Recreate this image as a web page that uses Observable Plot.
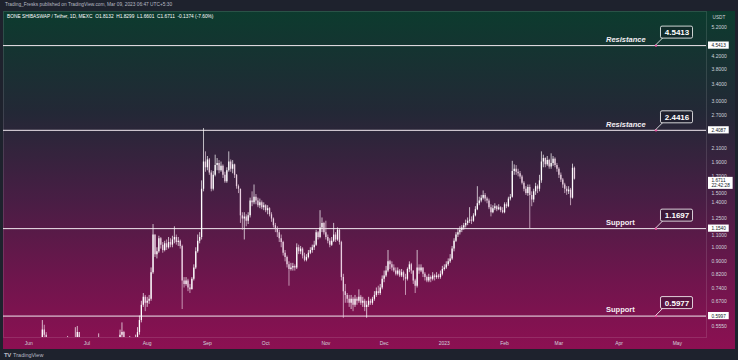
<!DOCTYPE html>
<html>
<head>
<meta charset="utf-8">
<script src="https://cdn.jsdelivr.net/npm/d3@7"></script>
<script src="https://cdn.jsdelivr.net/npm/@observablehq/plot@0.6"></script>
<style>
html,body{margin:0;padding:0;background:#1e222d;width:738px;height:360px;overflow:hidden;font-family:"Liberation Sans",Arial,sans-serif;}
#header{position:absolute;left:5px;top:2px;font-size:4.8px;line-height:6px;color:#b8bbc4;white-space:nowrap;}
#chart{position:absolute;left:3px;top:11px;width:732px;height:338px;
  background:linear-gradient(to bottom,#0c3b2e 0%,#232836 30%,#471e44 55%,#70154d 80%,#8c1052 100%);}
#chart svg{position:absolute;left:0;top:0;}
#legend{position:absolute;left:4px;top:3px;font-size:4.8px;line-height:6px;color:#ffffff;white-space:nowrap;z-index:2;}
#footer{position:absolute;left:4px;top:352px;font-size:5.5px;line-height:6px;color:#b8bbc4;white-space:nowrap;}
#footer b{font-size:6px;letter-spacing:-0.5px;margin-right:1px;}
</style>
</head>
<body>
<div id="header">Trading_Fresks published on TradingView.com, Mar 09, 2023 06:47 UTC+5:30</div>
<div id="chart"><div id="legend">BONE SHIBASWAP / Tether, 1D, MEXC&nbsp;&nbsp;O1.8132&nbsp;&nbsp;H1.8299&nbsp;&nbsp;L1.6601&nbsp;&nbsp;C1.6711&nbsp;&nbsp;-0.1374 (-7.60%)</div></div>
<div id="footer"><b>TV</b> TradingView</div>
<script>
// ---- data (daily candles from 2022-06-01) ----
const startDate = "2022-06-01";
const firstOpen = 0.48;
const closes = [
0.47,0.46,0.45,0.46,0.47,0.46,0.48,0.54,0.52,0.48,
0.46,0.44,0.42,0.40,0.41,0.42,0.43,0.44,0.45,0.47,
0.48,0.46,0.47,0.49,0.50,0.53,0.49,0.47,0.46,0.45,
0.46,0.47,0.46,0.47,0.48,0.49,0.50,0.48,0.47,0.46,
0.47,0.46,0.47,0.48,0.49,0.48,0.49,0.52,0.53,0.50,
0.48,0.49,0.50,0.48,0.49,0.50,0.53,0.58,0.65,0.69,
0.66,0.67,0.68,0.83,1.10,0.95,0.97,1.07,1.02,0.98,
1.03,1.00,1.04,1.02,1.06,1.08,1.04,1.05,1.01,0.78,
0.76,0.78,0.74,0.73,0.79,0.86,0.97,1.05,1.08,1.55,
1.90,1.82,1.93,1.75,1.55,1.72,1.85,1.88,1.78,1.84,
1.72,1.64,1.78,1.90,1.80,1.86,1.72,1.58,1.55,1.27,
1.24,1.26,1.22,1.27,1.42,1.40,1.46,1.42,1.37,1.40,
1.35,1.37,1.32,1.34,1.28,1.24,1.18,1.15,1.12,1.07,
1.04,0.96,0.93,0.88,0.85,0.86,0.87,0.86,1.00,0.97,
0.99,0.94,0.91,0.93,0.96,0.98,1.00,1.02,1.12,1.08,
1.16,1.20,1.12,1.08,1.05,1.02,1.05,1.10,1.06,1.14,
1.04,0.80,0.72,0.70,0.68,0.66,0.68,0.65,0.68,0.67,
0.69,0.66,0.67,0.64,0.65,0.67,0.66,0.68,0.70,0.72,
0.71,0.74,0.79,0.81,0.84,0.90,0.88,0.86,0.84,0.82,
0.84,0.81,0.83,0.80,0.79,0.85,0.88,0.84,0.78,0.75,
0.86,0.84,0.86,0.82,0.80,0.78,0.80,0.79,0.81,0.80,
0.81,0.80,0.82,0.85,0.86,0.88,0.90,0.92,0.99,1.05,
1.10,1.12,1.14,1.16,1.18,1.20,1.22,1.23,1.22,1.27,
1.33,1.39,1.42,1.45,1.48,1.44,1.42,1.35,1.30,1.34,
1.36,1.33,1.35,1.32,1.30,1.38,1.36,1.44,1.46,1.77,
1.80,1.76,1.74,1.70,1.62,1.55,1.50,1.57,1.48,1.43,
1.52,1.58,1.55,1.65,1.90,1.95,1.86,1.92,1.83,1.88,
1.94,1.85,1.80,1.72,1.66,1.60,1.55,1.52,1.54,1.45,
1.8132,1.6711];
const highs = [
0.49,0.48,0.47,0.48,0.49,0.48,0.50,0.58,0.56,0.53,
0.48,0.46,0.45,0.42,0.43,0.44,0.45,0.46,0.47,0.49,
0.515,0.49,0.49,0.51,0.55,0.555,0.52,0.49,0.48,0.47,
0.48,0.49,0.48,0.49,0.50,0.505,0.525,0.50,0.49,0.48,
0.49,0.48,0.49,0.50,0.505,0.50,0.51,0.54,0.57,0.535,
0.50,0.505,0.515,0.50,0.505,0.52,0.55,0.60,0.67,0.71,
0.70,0.69,0.70,0.86,1.19,1.10,1.00,1.09,1.08,1.04,
1.05,1.06,1.08,1.07,1.09,1.17,1.10,1.08,1.06,1.02,
0.80,0.80,0.79,0.76,0.80,0.88,1.00,1.10,1.12,1.65,
2.44,2.05,1.98,1.95,1.78,1.77,2.00,1.95,1.92,1.90,
1.86,1.76,1.82,2.05,1.93,1.92,1.87,1.73,1.60,1.55,
1.30,1.30,1.28,1.30,1.45,1.52,1.60,1.49,1.45,1.44,
1.42,1.40,1.38,1.37,1.35,1.30,1.25,1.20,1.17,1.14,
1.10,1.05,0.98,0.94,0.90,0.89,0.89,0.88,1.03,1.02,
1.01,1.00,0.96,0.95,0.98,1.00,1.02,1.05,1.14,1.13,
1.32,1.25,1.21,1.22,1.10,1.07,1.08,1.20,1.12,1.16,
1.15,1.05,0.82,0.76,0.71,0.70,0.70,0.69,0.70,0.69,
0.73,0.70,0.69,0.68,0.67,0.69,0.68,0.69,0.72,0.74,
0.75,0.76,0.81,0.84,0.87,0.98,0.91,0.90,0.88,0.86,
0.86,0.85,0.85,0.84,0.82,0.86,0.90,0.89,0.84,0.79,
0.98,0.88,0.88,0.86,0.83,0.81,0.82,0.81,0.83,0.82,
0.83,0.82,0.84,0.87,0.88,0.90,0.92,0.95,1.01,1.07,
1.12,1.15,1.17,1.18,1.20,1.23,1.25,1.35,1.26,1.29,
1.36,1.58,1.46,1.48,1.53,1.50,1.46,1.44,1.38,1.37,
1.39,1.37,1.38,1.36,1.35,1.40,1.40,1.46,1.49,1.91,
1.86,1.85,1.80,1.77,1.72,1.64,1.58,1.60,1.60,1.52,
1.55,1.62,1.60,1.72,2.05,2.00,1.96,1.98,1.94,2.02,
1.98,1.96,1.88,1.82,1.75,1.68,1.62,1.58,1.58,1.56,
1.87,1.8299];
const lows = [
0.45,0.44,0.43,0.44,0.45,0.44,0.46,0.47,0.50,0.47,
0.45,0.43,0.41,0.39,0.39,0.40,0.41,0.42,0.43,0.45,
0.46,0.44,0.45,0.46,0.48,0.49,0.47,0.45,0.44,0.43,
0.44,0.45,0.44,0.45,0.46,0.47,0.48,0.46,0.45,0.44,
0.45,0.44,0.45,0.46,0.47,0.46,0.47,0.48,0.51,0.48,
0.46,0.47,0.48,0.46,0.47,0.48,0.49,0.52,0.57,0.64,
0.62,0.64,0.655,0.67,0.82,0.93,0.92,0.96,0.99,0.96,
0.97,0.98,0.99,1.00,1.00,1.03,1.02,1.01,0.99,0.63,
0.74,0.75,0.72,0.71,0.73,0.78,0.85,0.96,1.03,1.06,
1.52,1.76,1.78,1.72,1.52,1.53,1.70,1.78,1.74,1.76,
1.68,1.62,1.62,1.76,1.76,1.74,1.68,1.55,1.50,1.20,
1.14,1.06,1.17,1.19,1.25,1.36,1.38,1.38,1.35,1.34,
1.33,1.32,1.30,1.28,1.26,1.21,1.16,1.12,1.08,1.04,
1.00,0.94,0.90,0.86,0.75,0.84,0.84,0.84,0.85,0.95,
0.95,0.92,0.90,0.90,0.92,0.95,0.96,0.98,1.01,1.06,
1.07,1.12,1.10,1.06,1.03,1.00,1.01,1.04,1.04,1.05,
1.02,0.78,0.59,0.66,0.66,0.64,0.63,0.62,0.64,0.65,
0.66,0.65,0.64,0.62,0.59,0.64,0.65,0.65,0.67,0.69,
0.70,0.70,0.73,0.77,0.80,0.83,0.85,0.84,0.83,0.81,
0.81,0.80,0.80,0.78,0.70,0.78,0.83,0.82,0.76,0.71,
0.74,0.82,0.83,0.80,0.78,0.77,0.77,0.77,0.78,0.78,
0.79,0.79,0.79,0.81,0.84,0.85,0.87,0.89,0.91,0.97,
1.04,1.08,1.10,1.12,1.14,1.16,1.18,1.20,1.19,1.21,
1.26,1.32,1.37,1.40,1.43,1.41,1.39,1.33,1.26,1.29,
1.32,1.31,1.32,1.30,1.29,1.29,1.34,1.35,1.42,1.45,
1.72,1.72,1.70,1.67,1.60,1.52,1.48,1.47,1.15,1.36,
1.40,1.48,1.50,1.52,1.62,1.82,1.82,1.84,1.80,1.80,
1.84,1.82,1.76,1.68,1.63,1.56,1.50,1.48,1.49,1.37,
1.44,1.6601];

const monthTicks = ["2022-06-01","2022-07-01","2022-08-01","2022-09-01","2022-10-01","2022-11-01",
  "2022-12-01","2023-01-01","2023-02-01","2023-03-01","2023-04-01","2023-05-01"];
const monthLabels = ["Jun","Jul","Aug","Sep","Oct","Nov","Dec","2023","Feb","Mar","Apr","May"];
const priceTicks = [5.2,4.2,3.8,3.4,3.0,2.7,2.1,1.9,1.7,1.5,1.4,1.25,1.1,1.0,0.9,0.82,0.74,0.67,0.555];

const levelValues = [4.5413, 2.4087, 1.154, 0.5997];
const levelAxisLabels = ["4.5413","2.4087","1.1540","0.5997"];
const calloutLabels = ["4.5413","2.4416","1.1697","0.5977"];
const levelNames = ["Resistance","Resistance","Support","Support"];
const calloutDate = "2023-04-20";
const lastPrice = 1.6711;
const lastPriceLabel = "1.6711";
const countdown = "22:42:28";
const axisUnit = "USDT";

// ---- build tables ----
const DAY = 864e5;
const t0 = Date.parse(startDate);
// open = previous day's close (24/7 market)
const candles = closes.map((c, i) => ({
  date: new Date(t0 + i * DAY),
  open: i ? closes[i - 1] : firstOpen,
  high: highs[i], low: lows[i], close: c
}));
const levels = levelValues.map((v, i) => ({
  value: v, axis: levelAxisLabels[i], callout: calloutLabels[i],
  name: levelNames[i], date: new Date(calloutDate)
}));
const tickDates = monthTicks.map(s => new Date(s));
const labelByTime = new Map(tickDates.map((d, i) => [d.getTime(), monthLabels[i]]));
const candleColor = d => d.close >= d.open ? "#ffffff" : "#e9cfe0";

const plot = Plot.plot({
  width: 732, height: 338,
  marginLeft: 0, marginRight: 29, marginTop: 0, marginBottom: 12,
  style: {background: "transparent", color: "#d1d4dc", fontSize: "5px",
          fontFamily: "'Liberation Sans', Arial, sans-serif"},
  x: {type: "utc", domain: [new Date("2022-05-19"), new Date("2023-05-16")],
      ticks: tickDates, tickFormat: d => labelByTime.get(d.getTime()) || "",
      tickSize: 0, tickPadding: 4, label: null},
  y: {type: "log", domain: [0.5109, 5.862], ticks: priceTicks, tickFormat: ".4f",
      axis: "right", tickSize: 0, tickPadding: 5, label: null},
  marks: [
    Plot.frame({stroke: "#ffffff", strokeOpacity: 0.12}),
    Plot.ruleY(levels, {y: "value", stroke: "#f1e8ef", strokeWidth: 1}),
    Plot.ruleX(candles, {x: "date", y1: "low", y2: "high", stroke: candleColor, strokeWidth: 0.7, clip: true}),
    Plot.ruleX(candles, {x: "date", y1: "open", y2: "close", stroke: candleColor, strokeWidth: 1.3, clip: true}),
    Plot.dot(levels, {x: "date", y: "value", r: 1.2, fill: "#e8509e", stroke: null}),
    Plot.text(levels, {x: "date", y: "value", text: "callout", dx: 21, dy: -13,
      fontSize: 8, fontWeight: "bold", fill: "#ffffff", ariaDescription: "callout"}),
    Plot.text(levels, {filter: d => d.name === "Resistance", x: "date", y: "value", text: "name",
      dx: -50, dy: -6, textAnchor: "start", fontSize: 7.5, fontWeight: "bold", fontStyle: "italic", fill: "#f4eef3"}),
    Plot.text(levels, {filter: d => d.name === "Support", x: "date", y: "value", text: "name",
      dx: -50, dy: -6, textAnchor: "start", fontSize: 7.5, fontWeight: "bold", fill: "#f4eef3"}),
    Plot.text(levels, {y: "value", text: "axis", frameAnchor: "right", dx: 5, textAnchor: "start",
      fontSize: 4.7, fill: "#131722", ariaDescription: "axisbox"}),
    Plot.text([{v: lastPrice, t: lastPriceLabel + "\n" + countdown}], {y: "v", text: "t", frameAnchor: "right",
      dx: 5, dy: -1.4, textAnchor: "start", lineAnchor: "top", lineHeight: 1.15,
      fontSize: 4.7, fill: "#131722", ariaDescription: "pricebox"}),
    Plot.text([axisUnit], {text: d => d, frameAnchor: "top-right", dx: 6, dy: 4,
      textAnchor: "start", fontSize: 4.7, fill: "#d1d4dc"})
  ]
});
document.getElementById("chart").append(plot);

// boxes behind the label texts, connectors from the dots to the callout boxes
const root = d3.select(plot);
const X = plot.scale("x"), Y = plot.scale("y");
const right = X.range[1];
const groupOf = name => root.selectAll("g").filter(function () {
  return this.getAttribute("aria-description") === name;
});
const boxes = root.append("g").attr("class", "label-boxes");
const calloutNodes = groupOf("callout").selectAll("text").nodes();
const axisNodes = groupOf("axisbox").selectAll("text").nodes();
levels.forEach((d, i) => {
  const px = X.apply(d.date), py = Y.apply(d.value);
  const bb = calloutNodes[i] ? calloutNodes[i].getBBox() : {width: 26};
  const w = bb.width + 7, h = 12, cx = px + 21, cy = py - 13;
  boxes.append("line").attr("x1", px).attr("y1", py).attr("x2", cx - w / 2 + 2).attr("y2", cy + h / 2)
    .attr("stroke", "#ffffff").attr("stroke-width", 0.8);
  boxes.append("rect").attr("x", cx - w / 2).attr("y", cy - h / 2).attr("width", w).attr("height", h)
    .attr("rx", 1.5).attr("fill", "rgba(20,18,30,0.3)").attr("stroke", "#ffffff").attr("stroke-width", 0.8);
  const ab = axisNodes[i] ? axisNodes[i].getBBox() : {width: 15};
  boxes.append("rect").attr("x", right + 2).attr("y", py - 3.6).attr("width", ab.width + 6).attr("height", 7.2)
    .attr("fill", "#ffffff");
});
{
  const pn = groupOf("pricebox").select("text").node();
  const pb = pn ? pn.getBBox() : {width: 17};
  const py = Y.apply(lastPrice);
  boxes.append("rect").attr("x", right + 2).attr("y", py - 1.8).attr("width", pb.width + 6).attr("height", 12)
    .attr("fill", "#ffffff");
}
// keep the label texts above their boxes
groupOf("callout").raise();
groupOf("axisbox").raise();
groupOf("pricebox").raise();
</script>
</body>
</html>
